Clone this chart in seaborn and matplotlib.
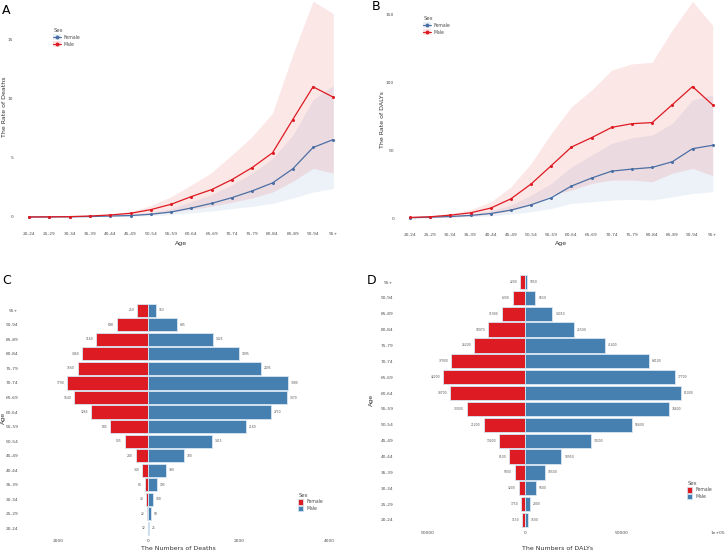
import numpy as np
import pandas as pd
import matplotlib
matplotlib.use("Agg")
import matplotlib.pyplot as plt
import seaborn as sns
from matplotlib.lines import Line2D
from matplotlib.patches import Patch
from matplotlib.legend_handler import HandlerTuple

# ---------------- data ----------------
ages = ["20-24", "25-29", "30-34", "35-39", "40-44", "45-49", "50-54", "55-59",
        "60-64", "65-69", "70-74", "75-79", "80-84", "85-89", "90-94", "95+"]

death_rate_male = [0.00, 0.01, 0.03, 0.08, 0.17, 0.31, 0.62, 1.07, 1.72, 2.31, 3.15, 4.17, 5.41, 8.22, 10.98, 10.10]
death_rate_male_upper = [0.01, 0.02, 0.05, 0.12, 0.25, 0.45, 0.96, 1.72, 2.70, 3.75, 5.24, 6.79, 8.76, 13.70, 18.20, 17.15]
death_rate_male_lower = [0.00, 0.005, 0.015, 0.04, 0.08, 0.14, 0.24, 0.40, 0.65, 0.90, 1.25, 1.60, 2.10, 3.00, 4.10, 3.70]
death_rate_female = [0.00, 0.005, 0.015, 0.04, 0.08, 0.12, 0.23, 0.42, 0.76, 1.15, 1.63, 2.20, 2.87, 4.06, 5.86, 6.53]
death_rate_female_upper = [0.005, 0.01, 0.03, 0.07, 0.12, 0.20, 0.38, 0.70, 1.30, 1.90, 2.70, 3.70, 4.93, 6.90, 9.90, 11.10]
death_rate_female_lower = [0.00, 0.00, 0.01, 0.02, 0.04, 0.06, 0.10, 0.20, 0.35, 0.50, 0.70, 0.90, 1.15, 1.60, 2.10, 2.40]

daly_rate_male = [0.5, 1.0, 2.2, 3.9, 7.4, 14.2, 25.1, 38.6, 52.3, 59.2, 66.8, 69.5, 70.3, 83.5, 96.8, 83.3]
daly_rate_male_upper = [0.8, 1.7, 3.4, 6.2, 12.0, 23.0, 40.3, 62.4, 82.0, 94.3, 109.0, 113.5, 114.7, 138.5, 159.5, 142.0]
daly_rate_male_lower = [0.2, 0.4, 0.8, 1.5, 2.9, 5.4, 9.6, 17.0, 20.6, 25.5, 28.0, 28.0, 26.8, 33.0, 36.6, 31.2]
daly_rate_female = [0.3, 0.7, 1.2, 2.0, 3.4, 5.9, 9.8, 15.0, 23.6, 29.5, 34.6, 36.1, 37.3, 41.5, 51.1, 53.6]
daly_rate_female_upper = [0.5, 1.0, 1.5, 2.7, 5.4, 9.6, 17.0, 25.5, 37.8, 46.4, 55.0, 59.2, 61.2, 69.8, 87.0, 90.7]
daly_rate_female_lower = [0.1, 0.3, 0.6, 1.0, 1.7, 2.9, 4.7, 7.1, 10.8, 12.0, 13.3, 13.8, 13.3, 15.7, 18.2, 19.4]

deaths_female = [12, 22, 40, 80, 140, 280, 525, 845, 1265, 1640, 1790, 1560, 1460, 1160, 698, 250]
deaths_male = [25, 58, 108, 195, 390, 780, 1415, 2160, 2710, 3070, 3080, 2495, 1995, 1425, 645, 163]

dalys_female = [1150, 1750, 3200, 5000, 8100, 13400, 21200, 30000, 38700, 42200, 37900, 26200, 18970, 11900, 6200, 2200]
dalys_male = [1500, 2800, 5600, 10500, 18950, 34300, 55600, 74400, 81000, 77700, 64100, 41400, 25500, 14350, 5550, 1050]

sexes = ["Female", "Male"]

# ---------------- style ----------------
LINE_COL = {"Female": "#4B6FA5", "Male": "#DE1A22"}
BAND_COL = {"Female": "#4682B4", "Male": "#E41A1C"}
BAR_COL = {"Female": "#DC1B23", "Male": "#4680B0"}
TXT = "#4d4d4d"

sns.set_theme(style="white")
plt.rcParams["font.family"] = ["DejaVu Sans"]

W, H = 725, 552
fig = plt.figure(figsize=(W / 100, H / 100), dpi=100)


def add_ax(x0, x1, y0, y1):
    return fig.add_axes([x0 / W, 1 - y1 / H, (x1 - x0) / W, (y1 - y0) / H])


def style_ax(ax):
    for s in ax.spines.values():
        s.set_visible(False)
    ax.tick_params(axis="both", length=1.5, width=0.4, color="#666666",
                   labelsize=3.2, labelcolor=TXT, pad=1.2)
    ax.set_xlabel("")
    ax.set_ylabel("")
    ax.grid(False)
    ax.set_facecolor("white")


def rate_panel(ax, m, mu, ml, f, fu, fl, ylim, yticks):
    x = np.arange(len(ages))
    ax.fill_between(x, fl, fu, color=BAND_COL["Female"], alpha=0.10, linewidth=0)
    ax.fill_between(x, ml, mu, color=BAND_COL["Male"], alpha=0.10, linewidth=0)
    df = pd.DataFrame({
        "Age": ages * 2,
        "Rate": list(f) + list(m),
        "Sex": ["Female"] * len(ages) + ["Male"] * len(ages),
    })
    sns.lineplot(data=df, x="Age", y="Rate", hue="Sex", palette=LINE_COL,
                 marker="o", markersize=2.2, markeredgewidth=0, linewidth=0.9,
                 ax=ax, legend=False, sort=False)
    ax.set_xlim(-0.6, len(ages) - 0.4)
    ax.set_ylim(*ylim)
    ax.set_yticks(yticks)
    ax.set_yticklabels([str(v) for v in yticks])
    ax.set_xticks(x)
    ax.set_xticklabels(ages)
    style_ax(ax)


def rate_legend(x, y):
    handles = []
    for s in sexes:
        handles.append((Patch(facecolor=BAND_COL[s], alpha=0.12, edgecolor="none"),
                        Line2D([], [], color=LINE_COL[s], lw=0.8, marker="o", markersize=1.8)))
    leg = fig.legend(handles, sexes, title="Sex", loc="upper left",
                     bbox_to_anchor=(x / W, 1 - y / H), frameon=False,
                     fontsize=3.3, title_fontsize=3.8, handlelength=1.6,
                     handleheight=1.6, labelspacing=0.25, borderpad=0,
                     handletextpad=0.6, handler_map={tuple: HandlerTuple(ndivide=1, pad=0)})
    leg._legend_box.align = "left"
    for t in leg.get_texts():
        t.set_color(TXT)
    leg.get_title().set_color(TXT)


def pyramid(ax, fem, mal, xlim, xticks, xticklabels, fs_lbl, off):
    order = ages[::-1]
    df = pd.DataFrame({
        "Age": ages * 2,
        "Value": [-v for v in fem] + list(mal),
        "Sex": ["Female"] * len(ages) + ["Male"] * len(ages),
    })
    sns.barplot(data=df, y="Age", x="Value", hue="Sex", order=order, dodge=False,
                palette=BAR_COL, saturation=1, width=0.9, edgecolor="#d8e6f3",
                linewidth=0.6, orient="h", ax=ax, legend=False)
    for i, a in enumerate(order):
        k = ages.index(a)
        ax.text(-fem[k] - off, i, str(fem[k]), ha="right", va="center",
                fontsize=fs_lbl, color="#555555")
        ax.text(mal[k] + off, i, str(mal[k]), ha="left", va="center",
                fontsize=fs_lbl, color="#555555")
    ax.set_xlim(*xlim)
    ax.set_ylim(len(ages) - 0.4, -0.6)
    ax.set_xticks(xticks)
    ax.set_xticklabels(xticklabels)
    style_ax(ax)
    ax.tick_params(axis="x", length=0)


def bar_legend(x, y):
    handles = [Patch(facecolor=BAR_COL[s], edgecolor="#d8e6f3", linewidth=0.5) for s in sexes]
    leg = fig.legend(handles, sexes, title="Sex", loc="upper left",
                     bbox_to_anchor=(x / W, 1 - y / H), frameon=False,
                     fontsize=3.3, title_fontsize=3.8, handlelength=1.1,
                     handleheight=1.6, labelspacing=0.15, borderpad=0,
                     handletextpad=0.6)
    leg._legend_box.align = "left"
    for t in leg.get_texts():
        t.set_color(TXT)
    leg.get_title().set_color(TXT)


# ---------------- Panel A ----------------
axA = add_ax(17, 345.5, 0, 228)
rate_panel(axA, death_rate_male, death_rate_male_upper, death_rate_male_lower,
           death_rate_female, death_rate_female_upper, death_rate_female_lower,
           (-0.93, 18.3), [0, 5, 10, 15])
rate_legend(51, 26)
fig.text(2 / W, 1 - 10 / H, "A", fontsize=9, color="black", va="center", ha="left")
fig.text(181 / W, 1 - 243 / H, "Age", fontsize=4.5, color="#333333", ha="center", va="center")
fig.text(5 / W, 1 - 107 / H, "The Rate of Deaths", fontsize=4.5, color="#333333",
         rotation=90, ha="center", va="center")

# ---------------- Panel B ----------------
axB = add_ax(397.9, 724.8, 0, 229)
rate_panel(axB, daly_rate_male, daly_rate_male_upper, daly_rate_male_lower,
           daly_rate_female, daly_rate_female_upper, daly_rate_female_lower,
           (-8.0, 160.5), [0, 50, 100, 150])
rate_legend(421, 14)
fig.text(372 / W, 1 - 6 / H, "B", fontsize=9, color="black", va="center", ha="left")
fig.text(561 / W, 1 - 243 / H, "Age", fontsize=4.5, color="#333333", ha="center", va="center")
fig.text(383 / W, 1 - 120 / H, "The Rate of DALYs", fontsize=4.5, color="#333333",
         rotation=90, ha="center", va="center")

# ---------------- Panel C ----------------
axC = add_ax(22, 344, 301.6, 537)
pyramid(axC, deaths_female, deaths_male, (-2789, 4322),
        [-2000, 0, 2000, 4000], ["2000", "0", "2000", "4000"], 2.2, 60)
bar_legend(296, 491)
fig.text(2 / W, 1 - 280 / H, "C", fontsize=9, color="black", va="center", ha="left")
fig.text(178 / W, 1 - 549 / H, "The Numbers of Deaths", fontsize=4.5, color="#333333",
         ha="center", va="center")
fig.text(3.5 / W, 1 - 418 / H, "Age", fontsize=4.5, color="#333333",
         rotation=90, ha="center", va="center")

# ---------------- Panel D ----------------
axD = add_ax(397, 725, 272.5, 529.5)
pyramid(axD, dalys_female, dalys_male, (-66029, 103567),
        [-50000, 0, 50000, 100000], ["50000", "0", "50000", "1e+05"], 2.2, 1500)
bar_legend(685, 479)
fig.text(367 / W, 1 - 280 / H, "D", fontsize=9, color="black", va="center", ha="left")
fig.text(558 / W, 1 - 548 / H, "The Numbers of DALYs", fontsize=4.5, color="#333333",
         ha="center", va="center")
fig.text(371 / W, 1 - 400 / H, "Age", fontsize=4.5, color="#333333",
         rotation=90, ha="center", va="center")

fig.savefig("out.png", dpi=100, facecolor="white")
